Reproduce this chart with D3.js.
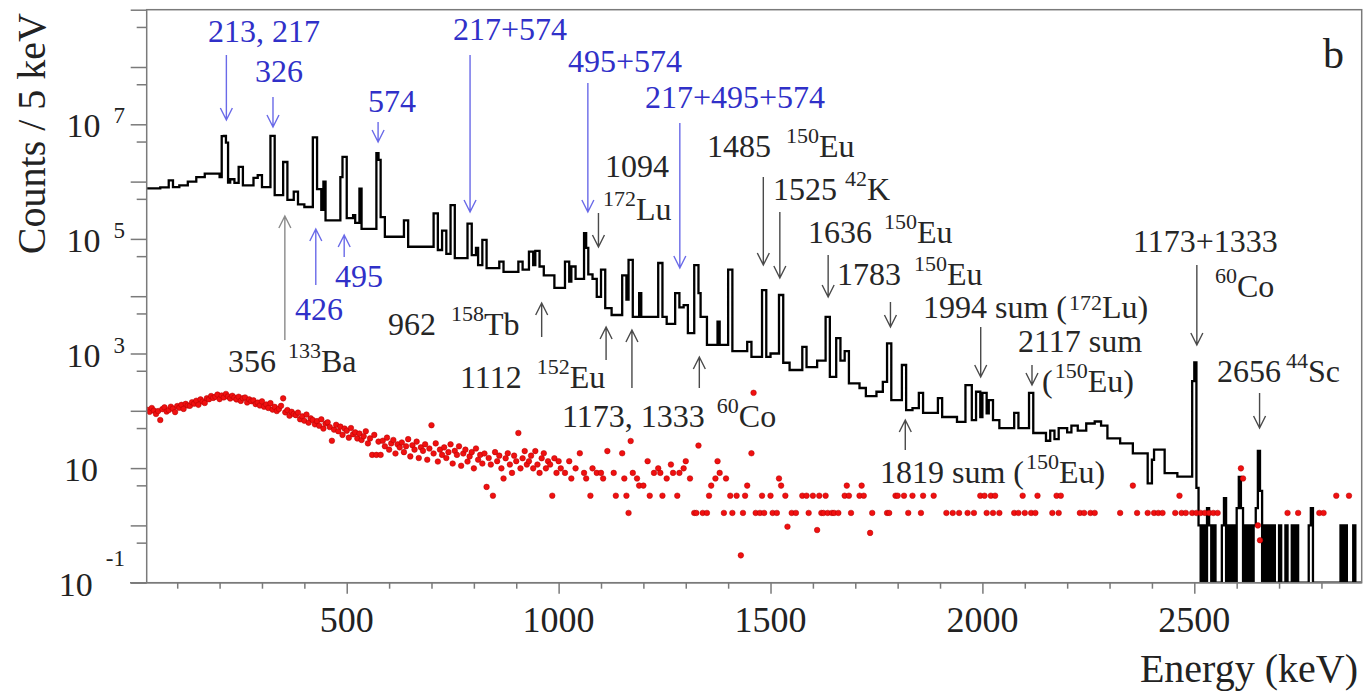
<!DOCTYPE html>
<html>
<head>
<meta charset="utf-8">
<script src="https://cdn.jsdelivr.net/npm/d3@7"></script>
<style>
  body { margin: 0; background: #fff; }
</style>
</head>
<body>
<div id="chart"></div>
<script>
// ---- measured spectrum (black histogram): step left edges (keV) and counts / 5 keV
const histEdges = [28, 60, 80, 90, 105, 125, 145, 165, 200, 205, 210, 215, 220, 225, 235, 245, 255, 280, 290, 300,
  320, 330, 350, 360, 375, 385, 400, 420, 430, 440, 445, 450, 485, 490, 500, 515, 520, 530, 535, 570,
  575, 580, 590, 635, 645, 705, 715, 725, 735, 745, 755, 785, 795, 805, 810, 820, 830, 860, 870, 905,
  915, 930, 940, 945, 955, 965, 990, 1015, 1025, 1030, 1040, 1060, 1065, 1070, 1080, 1090, 1100, 1110, 1125, 1150,
  1160, 1165, 1175, 1190, 1195, 1235, 1245, 1255, 1275, 1285, 1295, 1305, 1320, 1330, 1335, 1350, 1375, 1380, 1400, 1410,
  1445, 1455, 1480, 1490, 1500, 1520, 1530, 1545, 1575, 1585, 1610, 1630, 1640, 1655, 1665, 1675, 1685, 1710, 1725, 1750,
  1765, 1775, 1785, 1810, 1820, 1835, 1850, 1860, 1895, 1905, 1940, 1960, 1975, 1985, 1995, 2000, 2010, 2015, 2025, 2040,
  2075, 2085, 2110, 2120, 2150, 2160, 2170, 2180, 2200, 2210, 2225, 2245, 2265, 2280, 2295, 2325, 2355, 2390, 2400, 2405,
  2430, 2460, 2495, 2500, 2505,
  2510, 2515, 2520, 2525, 2530, 2535, 2540, 2545, 2550, 2565, 2570, 2575, 2580, 2585, 2590, 2595, 2600, 2605, 2610, 2615,
  2620, 2625, 2630, 2635, 2640, 2645, 2650, 2655, 2660, 2665, 2670, 2675, 2680, 2685, 2690, 2700, 2705, 2715, 2720, 2730,
  2735, 2740, 2745, 2770, 2775, 2780, 2845, 2850, 2855, 2860, 2875, 2880]
const histCounts = [7.6e5, 7.9e5, 1.05e6, 8.0e5, 8.6e5, 1.0e6, 1.2e6, 1.38e6, 1.2e6, 6.2e6, 6.3e6, 4.8e6, 9.6e5, 1.1e6, 9.5e5, 1.8e6, 8.6e5, 1.16e6, 1.3e6, 8.0e5,
  6.3e6, 5.8e5, 2.2e6, 4.8e5, 6.7e5, 4.0e5, 3.6e5, 5.9e6, 7.4e5, 3.2e5, 1.0e6, 2.1e5, 1.2e6, 2.7e6, 2.3e5, 2.6e5, 1.9e5, 7.5e5, 1.5e5, 3.15e6,
  2.4e6, 2.4e5, 1.09e5, 2.1e5, 7.3e4, 2.8e5, 6.4e4, 1.4e5, 5.5e4, 3.9e5, 4.6e4, 1.85e5, 5.2e4, 7.0e4, 3.5e4, 9.6e4, 3.1e4, 4.0e4, 2.65e4, 4.0e4,
  2.9e4, 6.0e4, 3.5e4, 6.2e4, 3.3e4, 2.3e4, 1.4e4, 4.0e4, 1.8e4, 3.3e4, 2.0e4, 1.26e5, 7.0e4, 2.4e4, 2.0e4, 9.7e3, 2.9e4, 6.2e3, 4.7e3, 2.3e4,
  8.7e3, 4.3e4, 4.35e3, 1.13e4, 4.35e3, 3.8e4, 4.35e3, 3.3e3, 1.13e4, 6.4e3, 7.0e3, 2.27e3, 3.5e4, 1.13e4, 4.35e3, 1.41e3, 3.6e3, 1.41e3, 2.9e4, 1.1e3,
  1.6e3, 875, 1.28e4, 875, 1.0e3, 1.05e4, 690, 515, 1.3e3, 580, 750, 4.35e3, 390, 1.85e3, 750, 1.1e3, 300, 250, 180, 215,
  320, 1.5e3, 154, 630, 103, 111, 205, 92, 167, 78, 64, 280, 69, 215, 78, 205, 90, 154, 69, 50,
  92, 50, 205, 41, 30, 45, 32, 50, 42, 55, 45, 60, 65, 55, 33, 27, 18, 5.4, 14, 21,
  8.2, 7.1, 330, 700, 4.5,
  1, 0, 1, 0, 2, 1, 0, 1, 0, 1, 3, 0, 1, 0, 1, 0, 2, 7, 2, 0,
  1, 0, 1, 0, 1, 2, 20, 4, 0, 1, 0, 1, 0, 1, 0, 1, 0, 1, 0, 1,
  0, 1, 0, 1, 2, 0, 1, 0, 1, 0, 1, 0]
const histEnd = 2895

// ---- background (red points): dense part, one value per 5 keV bin from 30 keV
const bkgDenseStart = 30
const bkgDenseStep = 5
const bkgDense = [
  104, 96, 112, 101, 88, 99, 69, 107, 115, 97,
  103, 118, 109, 95, 121, 113, 127, 108, 132, 124,
  122, 141, 133, 150, 127, 158, 145, 137, 166, 159,
  181, 168, 176, 192, 160, 185, 171, 197, 178, 164,
  183, 170, 158, 176, 149, 166, 171, 140, 158, 147,
  152, 131, 139, 124, 146, 118, 129, 112, 136, 105,
  117, 99, 108, 122, 165, 94, 103, 82, 96, 88,
  84, 93, 71, 80, 67, 86, 62, 74, 69, 58,
  66, 55, 71, 49, 60, 63, 52, 30, 47, 57,
  44, 53, 38, 49, 45, 34, 50, 39, 42, 33,
  40, 31, 36, 44, 27, 33, 17, 38, 17, 29,
  17, 30, 24, 34, 21, 27, 31, 18, 26, 23,
  28, 19, 24, 32, 16, 25, 21, 29, 15, 23,
  20, 26, 14, 22, 56, 18, 27, 13, 21, 17,
  23, 15, 19, 26, 12, 20, 17, 24, 11, 18,
  21, 13, 16, 19, 9.9, 22, 14, 17, 12, 18,
  4.7, 15, 11.55, 3.3, 19, 13.2, 16.5, 9.9, 6.6, 14.85,
  18.15, 11.55, 8.25, 16.5, 13.2, 41, 9.9, 14.85, 19.8, 11.55,
  13.2, 16.5, 9.9, 19.8, 11.55, 8.25, 14.85, 18.15, 9.9, 13.2,
  11.55, 3.3, 14.85, 8.25, 13.2]
// sparse part above 1 MeV (energy keV, counts)
const bkgSparseE = [1005, 1015, 1025, 1030, 1040, 1050, 1060, 1065, 1075, 1080, 1090, 1100, 1105, 1115, 1130, 1135, 1150, 1155, 1160, 1165,
  1170, 1175, 1185, 1190, 1200, 1210, 1215, 1225, 1235, 1240, 1245, 1255, 1265, 1270, 1280, 1285, 1295, 1300, 1310, 1320,
  1325, 1330, 1340, 1350, 1355, 1360, 1370, 1375, 1380, 1390, 1395, 1405, 1410, 1420, 1430, 1435, 1440, 1445, 1455, 1460,
  1465, 1475, 1480, 1485, 1500, 1505, 1515, 1520, 1525, 1535, 1540, 1550, 1560, 1575, 1585, 1590, 1600, 1610, 1615, 1620,
  1625, 1630, 1635, 1645, 1650, 1660, 1675, 1680, 1685, 1690, 1710, 1715, 1720, 1735, 1740, 1775, 1780, 1795, 1800, 1815,
  1825, 1835, 1855, 1860, 1885, 1915, 1930, 1945, 1965, 1980, 1995, 2005, 2010, 2020, 2025, 2030, 2040, 2075, 2085, 2095,
  2100, 2115, 2125, 2130, 2165, 2175, 2180, 2185, 2230, 2240, 2255, 2265, 2325, 2355, 2365, 2390, 2405, 2415, 2425, 2455,
  2465, 2470, 2480, 2495, 2505, 2515, 2525, 2535, 2545, 2555, 2610, 2615, 2650, 2655, 2720, 2745, 2795, 2805, 2835, 2865]
const bkgSparseC = [9.9, 8.25, 13.2, 6.6, 9.9, 18.15, 8.25, 6.6, 3.3, 9.9, 8.25, 8.25, 6.6, 19.8, 8.25, 3.3, 18.15, 6.6, 3.3, 1.65,
  29.7, 8.25, 6.6, 4.95, 4.95, 13.2, 3.3, 8.25, 9.9, 8.25, 3.3, 6.6, 11.55, 8.25, 3.3, 8.25, 9.9, 13.2, 6.6, 1.65,
  1.65, 24.75, 1.65, 1.65, 3.3, 4.95, 6.6, 13.2, 8.25, 1.65, 6.6, 3.3, 1.65, 3.3, 0.3, 1.65, 3.3, 4.95, 18.15, 206,
  1.65, 1.65, 3.3, 1.65, 3.3, 1.65, 1.65, 6.6, 4.95, 3.3, 0.95, 1.65, 1.65, 3.3, 3.3, 1.65, 3.3, 0.83, 3.3, 1.65,
  1.65, 3.3, 1.65, 1.65, 1.65, 1.65, 3.3, 4.95, 3.3, 1.65, 3.3, 4.95, 3.3, 0.74, 1.65, 1.65, 1.65, 3.3, 3.3, 3.3,
  1.65, 3.3, 1.65, 3.3, 3.3, 1.65, 1.65, 1.65, 1.65, 1.65, 3.3, 3.3, 1.65, 3.3, 1.65, 3.3, 1.65, 1.65, 1.65, 3.3,
  1.65, 1.65, 1.65, 3.3, 1.65, 3.3, 1.65, 3.3, 1.65, 1.65, 1.65, 1.65, 1.65, 4.95, 1.65, 1.65, 1.65, 1.65, 1.65, 1.65,
  3.3, 1.65, 1.65, 1.65, 1.65, 1.65, 1.65, 1.65, 1.65, 1.65, 9.9, 6.6, 1.0, 0.55, 1.65, 1.65, 1.65, 1.65, 3.3, 3.3]

// ---- axis ticks
const xMajorTicks = [500, 1000, 1500, 2000, 2500]
const yLabelPowers = [-1, 1, 3, 5, 7]

// ---- peak annotations: energy of the arrow, tail/tip y (px); text pieces [text, superscript?, dx]
const BLUE = '#3030c8', BLUE_ARROW = '#6a6ae8', DARK = '#262626', DARK_ARROW = '#4a4a4a'
const arrows = [
  { e: 216, y1: 55, y2: 120, c: BLUE_ARROW }, { e: 326, y1: 97, y2: 127, c: BLUE_ARROW },
  { e: 574, y1: 122, y2: 142, c: BLUE_ARROW }, { e: 791, y1: 55, y2: 212, c: BLUE_ARROW },
  { e: 1069, y1: 83, y2: 212, c: BLUE_ARROW }, { e: 1286, y1: 123, y2: 268, c: BLUE_ARROW },
  { e: 427, y1: 285, y2: 229, c: BLUE_ARROW }, { e: 494, y1: 257, y2: 235, c: BLUE_ARROW },
  { e: 354, y1: 340, y2: 216, c: '#8a8a8a' }, { e: 960, y1: 337, y2: 303, c: DARK_ARROW },
  { e: 1112, y1: 360, y2: 327, c: DARK_ARROW }, { e: 1173, y1: 388, y2: 330, c: DARK_ARROW },
  { e: 1332, y1: 388, y2: 357, c: DARK_ARROW }, { e: 1094, y1: 213, y2: 247, c: DARK_ARROW },
  { e: 1483, y1: 177, y2: 265, c: DARK_ARROW }, { e: 1522, y1: 212, y2: 278, c: DARK_ARROW },
  { e: 1636, y1: 255, y2: 297, c: DARK_ARROW }, { e: 1783, y1: 302, y2: 327, c: DARK_ARROW },
  { e: 1818, y1: 450, y2: 420, c: DARK_ARROW }, { e: 1996, y1: 327, y2: 377, c: DARK_ARROW },
  { e: 2117, y1: 365, y2: 385, c: DARK_ARROW }, { e: 2506, y1: 265, y2: 345, c: DARK_ARROW },
  { e: 2654, y1: 393, y2: 428, c: DARK_ARROW }
]
const labels = [
  { x: 208, y: 42, c: BLUE, parts: [['213, 217']] },
  { x: 255, y: 82, c: BLUE, parts: [['326']] },
  { x: 368, y: 112, c: BLUE, parts: [['574']] },
  { x: 453, y: 40, c: BLUE, parts: [['217+574']] },
  { x: 568, y: 72, c: BLUE, parts: [['495+574']] },
  { x: 645, y: 108, c: BLUE, parts: [['217+495+574']] },
  { x: 295, y: 320, c: BLUE, parts: [['426']] },
  { x: 335, y: 287, c: BLUE, parts: [['495']] },
  { x: 228, y: 372, c: DARK, parts: [['356'], ['133', 1, 12], ['Ba']] },
  { x: 388, y: 335, c: DARK, parts: [['962'], ['158', 1, 15], ['Tb']] },
  { x: 460, y: 388, c: DARK, parts: [['1112'], ['152', 1, 15], ['Eu']] },
  { x: 562, y: 427, c: DARK, parts: [['1173, 1333'], ['60', 1, 12], ['Co']] },
  { x: 605, y: 177, c: DARK, parts: [['1094']] },
  { x: 603, y: 220, c: DARK, parts: [['172', 1, 0], ['Lu']] },
  { x: 707, y: 157, c: DARK, parts: [['1485'], ['150', 1, 15], ['Eu']] },
  { x: 773, y: 200, c: DARK, parts: [['1525'], ['42', 1, 8], ['K']] },
  { x: 808, y: 243, c: DARK, parts: [['1636'], ['150', 1, 12], ['Eu']] },
  { x: 837, y: 285, c: DARK, parts: [['1783'], ['150', 1, 13], ['Eu']] },
  { x: 880, y: 483, c: DARK, parts: [['1819 sum ('], ['150', 1, 2], ['Eu)']] },
  { x: 923, y: 318, c: DARK, sup: 8, parts: [['1994 sum ('], ['172', 1, 2], ['Lu)']] },
  { x: 1018, y: 352, c: DARK, parts: [['2117 sum']] },
  { x: 1042, y: 392, c: DARK, parts: [['('], ['150', 1, 2], ['Eu)']] },
  { x: 1133, y: 252, c: DARK, parts: [['1173+1333']] },
  { x: 1215, y: 297, c: DARK, parts: [['60', 1, 0], ['Co']] },
  { x: 1217, y: 382, c: DARK, parts: [['2656'], ['44', 1, 5], ['Sc']] }
]

const width = 1363, height = 698
const dims = { left: 146.7, right: 1361.7, top: 9.7, bottom: 582.7 }
const AXIS = '#7a7a7a'
const FONT = 'Liberation Serif'

const svg = d3.select('#chart').append('svg')
  .attr('width', width)
  .attr('height', height)
  .style('white-space', 'pre')

const xScale = d3.scaleLinear().domain([28, histEnd]).range([dims.left, dims.right])
const yScale = d3.scaleLog().domain([0.1, 1e9]).range([dims.bottom, dims.top])
const yClamp = c => yScale(Math.max(c, 0.1))

svg.append('clipPath').attr('id', 'plotClip')
  .append('rect')
  .attr('x', dims.left).attr('y', dims.top)
  .attr('width', dims.right - dims.left).attr('height', dims.bottom - dims.top)

// histogram
const histPts = histEdges.map((e, i) => [e, histCounts[i]])
histPts.push([histEnd, histCounts[histCounts.length - 1]])
const stepLine = d3.line()
  .x(d => xScale(d[0]))
  .y(d => yClamp(d[1]))
  .curve(d3.curveStepAfter)

const plot = svg.append('g').attr('clip-path', 'url(#plotClip)')
plot.append('path')
  .datum(histPts)
  .attr('d', stepLine)
  .attr('fill', 'none')
  .attr('stroke', '#000')
  .attr('stroke-width', 2.3)

// background points
const bkg = bkgDense.map((c, i) => [bkgDenseStart + i * bkgDenseStep, c])
  .concat(bkgSparseE.map((e, i) => [e, bkgSparseC[i]]))
plot.selectAll('circle.bkg')
  .data(bkg)
  .enter()
  .append('circle')
  .attr('class', 'bkg')
  .attr('cx', d => xScale(d[0]))
  .attr('cy', d => yScale(d[1]))
  .attr('r', 2.8)
  .attr('fill', '#f01010')
  .attr('stroke', '#b00000')
  .attr('stroke-width', 0.5)

// frame
svg.append('rect')
  .attr('x', dims.left).attr('y', dims.top)
  .attr('width', dims.right - dims.left).attr('height', dims.bottom - dims.top)
  .attr('fill', 'none').attr('stroke', AXIS).attr('stroke-width', 1.5)
svg.append('line')
  .attr('x1', 130).attr('x2', dims.right)
  .attr('y1', dims.bottom).attr('y2', dims.bottom)
  .attr('stroke', AXIS).attr('stroke-width', 1.5)

// y ticks: every decade (long) and 5 x decade (short)
const yMajor = d3.range(-1, 10).map(p => Math.pow(10, p))
const yMinor = d3.range(-1, 9).map(p => 5 * Math.pow(10, p))
function yTicks(values, size) {
  const g = svg.append('g')
    .attr('transform', `translate(${dims.left},0)`)
    .call(d3.axisLeft(yScale).tickValues(values).tickSize(size).tickFormat(''))
  g.select('.domain').remove()
  g.selectAll('line').attr('stroke', AXIS).attr('stroke-width', 1.5)
}
yTicks(yMajor, 16)
yTicks(yMinor, 10)

// x ticks
function xTicks(values, size) {
  const g = svg.append('g')
    .attr('transform', `translate(0,${dims.bottom})`)
    .call(d3.axisBottom(xScale).tickValues(values).tickSize(size).tickFormat(''))
  g.select('.domain').remove()
  g.selectAll('line').attr('stroke', AXIS).attr('stroke-width', 1.5)
}
xTicks(d3.range(100, 2900, 100).filter(v => v % 500 !== 0), 6)
xTicks(xMajorTicks, 11)

svg.append('g').selectAll('text')
  .data(xMajorTicks)
  .enter()
  .append('text')
  .attr('x', d => xScale(d))
  .attr('y', 632)
  .attr('text-anchor', 'middle')
  .attr('font-family', FONT)
  .attr('font-size', 36)
  .attr('fill', '#222')
  .text(d => d)

// y tick labels, 10 with an exponent
yLabelPowers.forEach(p => {
  const yy = yScale(Math.pow(10, p))
  if (p === 1) {
    svg.append('text').attr('x', 98).attr('y', yy + 13).attr('font-family', FONT)
      .attr('text-anchor', 'end').attr('font-size', 34).attr('fill', '#222').text('10')
    return
  }
  const t = svg.append('text').attr('x', 125).attr('y', yy + 13).attr('font-family', FONT)
    .attr('text-anchor', 'end').attr('fill', '#222')
  t.append('tspan').attr('font-size', 34).text('10')
  t.append('tspan').attr('font-size', 23).attr('dx', 13)
    .attr('dy', p < 0 ? -30 : -14).text(String(p))
})

// axis titles
svg.append('text')
  .attr('transform', 'translate(45,13) rotate(-90)')
  .attr('text-anchor', 'end')
  .attr('font-family', FONT)
  .attr('font-size', 40)
  .attr('fill', '#222')
  .text('Counts / 5 keV')
svg.append('text')
  .attr('x', 1358).attr('y', 682)
  .attr('text-anchor', 'end')
  .attr('font-family', FONT)
  .attr('font-size', 40)
  .attr('fill', '#222')
  .text('Energy (keV)')
svg.append('text')
  .attr('x', 1323).attr('y', 68)
  .attr('font-family', FONT)
  .attr('font-size', 42)
  .attr('fill', '#222')
  .text('b')

// arrows with open heads
const ag = svg.append('g').attr('fill', 'none')
arrows.forEach(a => {
  const x = xScale(a.e)
  const dir = a.y2 > a.y1 ? 1 : -1
  const hw = 6, hl = 12
  ag.append('path')
    .attr('d', `M${x},${a.y1}L${x},${a.y2}M${x - hw},${a.y2 - dir * hl}L${x},${a.y2}L${x + hw},${a.y2 - dir * hl}`)
    .attr('stroke', a.c)
    .attr('stroke-width', 1.4)
})

// peak labels
labels.forEach(l => {
  const t = svg.append('text').attr('x', l.x).attr('y', l.y)
    .attr('fill', l.c).attr('font-size', 32).attr('font-family', FONT)
  const up = l.sup || 14
  let raised = false
  l.parts.forEach(([s, sup, dx]) => {
    const ts = t.append('tspan').text(s)
    if (sup) {
      ts.attr('font-size', 22).attr('dy', raised ? 0 : -up)
      if (dx) ts.attr('dx', dx)
      raised = true
    } else if (raised) {
      ts.attr('dy', up)
      raised = false
    }
  })
})
</script>
</body>
</html>
